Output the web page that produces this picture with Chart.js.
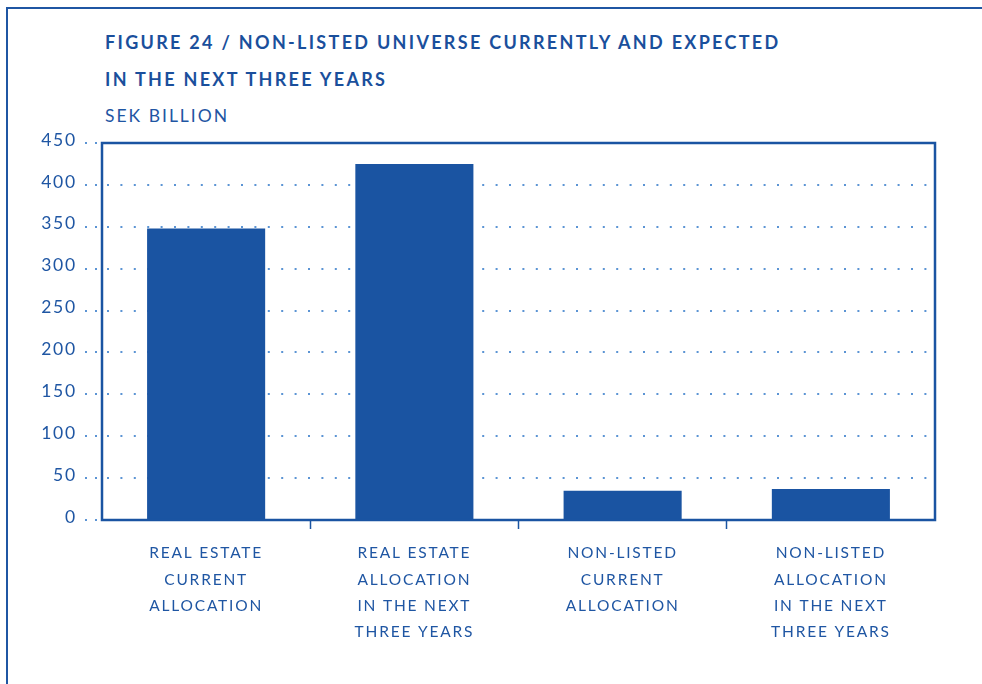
<!DOCTYPE html>
<html>
<head>
<meta charset="utf-8">
<script src="https://cdn.jsdelivr.net/npm/chart.js@4/dist/chart.umd.min.js"></script>
<style>
  html, body { margin: 0; padding: 0; background: #fff; }
  body { width: 982px; height: 684px; position: relative; overflow: hidden; font-family: Lato, "Open Sans", sans-serif; }
  .frame { position: absolute; left: 6px; top: 7px; width: 1000px; height: 700px; border-left: 2.5px solid #1f56a3; border-top: 2.5px solid #1f56a3; }
  .title { position: absolute; left: 105px; color: #1a4f9c; font-weight: 700; font-size: 18px; letter-spacing: 2.3px; line-height: 20px; }
  .unit { position: absolute; left: 105px; top: 106px; color: #1f56a3; font-size: 17.5px; letter-spacing: 2px; line-height: 20px; }
  #wrap { position: absolute; left: 0; top: 0; width: 982px; height: 684px; }
</style>
</head>
<body>
<div class="frame"></div>
<div class="title" style="top:32px">FIGURE 24 / NON-LISTED UNIVERSE CURRENTLY AND EXPECTED</div>
<div class="title" style="top:69px">IN THE NEXT THREE YEARS</div>
<div class="unit">SEK BILLION</div>
<div id="wrap"><canvas id="chart"></canvas></div>
<script>
  const categories = [
    ['REAL ESTATE', 'CURRENT', 'ALLOCATION'],
    ['REAL ESTATE', 'ALLOCATION', 'IN THE NEXT', 'THREE YEARS'],
    ['NON-LISTED', 'CURRENT', 'ALLOCATION'],
    ['NON-LISTED', 'ALLOCATION', 'IN THE NEXT', 'THREE YEARS']
  ];
  const values = [348, 425, 35, 37];
  const yTicks = [0, 50, 100, 150, 200, 250, 300, 350, 400, 450];

  const blue = '#1a54a2';
  const textBlue = '#1f56a3';
  const dotBlue = '#5b94d4';

  // letter spacing gets reset when the canvas resizes, so set it again each pass
  function track(chart){ chart.ctx.letterSpacing = '1.8px'; }

  // box around the plot area
  const frame = {
    id: 'frame',
    beforeInit: track,
    beforeUpdate: track,
    beforeLayout: track,
    beforeDraw: track,
    afterDraw(chart){
      const a = chart.chartArea, ctx = chart.ctx;
      ctx.save();
      ctx.strokeStyle = blue;
      ctx.lineWidth = 2.5;
      ctx.strokeRect(a.left, a.top, a.right - a.left, a.bottom - a.top);
      ctx.restore();
    }
  };

  new Chart(document.getElementById('chart'), {
    type: 'bar',
    data: {
      labels: categories,
      datasets: [{ data: values, backgroundColor: blue, barPercentage: 0.567, categoryPercentage: 1 }]
    },
    options: {
      responsive: true,
      maintainAspectRatio: false,
      animation: false,
      layout: { padding: { top: 143, right: 47, left: 0, bottom: 0 } },
      plugins: { legend: { display: false }, tooltip: { enabled: false } },
      scales: {
        y: {
          min: 0, max: 450,
          afterBuildTicks(s){ s.ticks = yTicks.map(v => ({ value: v })); },
          afterFit(s){ s.width = 102; },
          border: { display: false, dash: [2, 11.4], dashOffset: -5 },
          grid: { color: dotBlue, lineWidth: 2, tickLength: 17, tickColor: dotBlue, tickWidth: 2, tickBorderDash: [2, 8] },
          ticks: { color: textBlue, padding: 8, labelOffset: -3, font: { family: 'Lato', size: 17.5 } }
        },
        x: {
          afterFit(s){ s.height = 164; },
          border: { display: false },
          grid: {
            drawOnChartArea: false, tickLength: 9, tickWidth: 1.5,
            tickColor: c => (c.type === 'tick' && c.index > 0) ? blue : 'rgba(0,0,0,0)'
          },
          ticks: { color: textBlue, padding: 11, maxRotation: 0, autoSkip: false, font: { family: 'Lato', size: 15.5, lineHeight: 1.7 } }
        }
      }
    },
    plugins: [frame]
  });
</script>
</body>
</html>
